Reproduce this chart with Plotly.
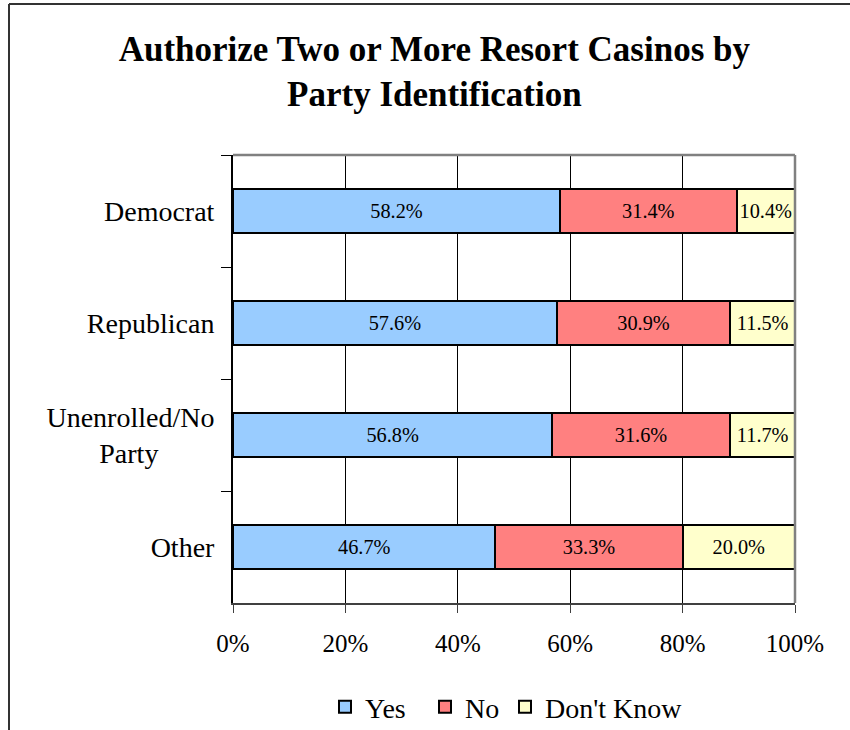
import plotly.graph_objects as go

categories = ["Democrat", "Republican", "Unenrolled/No<br>Party&nbsp;&nbsp;&nbsp;&nbsp;&nbsp;&nbsp;&nbsp;&nbsp;", "Other"]
yes = [58.2, 57.6, 56.8, 46.7]
no = [31.4, 30.9, 31.6, 33.3]
dont_know = [10.4, 11.5, 11.7, 20.0]
series_names = ["Yes", "No", "Don't Know"]
colors = ["#99CCFF", "#FF8080", "#FFFFCC"]
x_ticks = [0, 20, 40, 60, 80, 100]

FONT = "Liberation Serif"
W, H = 850, 730
L, R, T, B = 233, 55, 155, 127
pw, ph = W - L - R, H - T - B

def px(x):
    return (x - L) / pw

def py(y):
    return (H - B - y) / ph

legend_ids = ["legend", "legend2", "legend3"]
legend_left = [325, 425, 505]  # pixel positions of each legend box

fig = go.Figure()
for name, vals, col, lg in zip(series_names, [yes, no, dont_know], colors, legend_ids):
    fig.add_trace(go.Bar(
        y=categories, x=vals, name=name, orientation="h", legend=lg,
        marker=dict(color=col, line=dict(color="black", width=2)),
        text=[f"{v:.1f}%" for v in vals], textposition="inside",
        insidetextanchor="middle", textangle=0,
        textfont=dict(family=FONT, size=21, color="black"),
        hoverinfo="skip",
    ))

legend_style = dict(orientation="h", xanchor="left", y=py(707), yanchor="middle",
                    font=dict(family=FONT, size=28), itemwidth=30,
                    bgcolor="rgba(0,0,0,0)")

fig.update_layout(
    width=W, height=H,
    margin=dict(l=L, r=R, t=T, b=B, autoexpand=False),
    barmode="stack", bargap=0.6,
    uniformtext=dict(minsize=18, mode="show"),
    plot_bgcolor="white", paper_bgcolor="white",
    font=dict(family=FONT, size=25, color="black"),
    title=dict(text="<b>Authorize Two or More Resort Casinos by<br>Party Identification</b>",
               x=0.511, xanchor="center", y=0.917, yanchor="middle",
               font=dict(family=FONT, size=35, color="black")),
    legend=dict(x=px(legend_left[0]), **legend_style),
    legend2=dict(x=px(legend_left[1]), **legend_style),
    legend3=dict(x=px(legend_left[2]), **legend_style),
    showlegend=True,
)
fig.update_xaxes(range=[0, 100], tickvals=x_ticks, ticktext=[f"{v}%" for v in x_ticks],
                 tickfont=dict(family=FONT, size=25),
                 showgrid=True, gridcolor="black", gridwidth=1,
                 showline=True, linecolor="#404040", linewidth=2,
                 ticks="outside", ticklen=8, tickcolor="#404040", tickwidth=1,
                 ticklabelstandoff=9, zeroline=False, fixedrange=True)
fig.update_yaxes(categoryorder="array", categoryarray=categories, autorange="reversed",
                 tickfont=dict(family=FONT, size=28),
                 showline=True, linecolor="black", linewidth=2,
                 ticks="outside", tickson="boundaries", ticklen=10, tickcolor="black",
                 ticklabelstandoff=11, showgrid=False, fixedrange=True)

# plot-area frame (gray top/right)
fig.add_shape(type="line", xref="paper", yref="paper", x0=0, x1=1, y0=1, y1=1,
              line=dict(color="#808080", width=2.5))
fig.add_shape(type="line", xref="paper", yref="paper", x0=1, x1=1, y0=0, y1=1,
              line=dict(color="#808080", width=2.5))
# outer chart border (top and left visible)
fig.add_shape(type="line", xref="paper", yref="paper", x0=px(9), x1=px(860), y0=py(4), y1=py(4),
              line=dict(color="#333333", width=2))
fig.add_shape(type="line", xref="paper", yref="paper", x0=px(9), x1=px(9), y0=py(4), y1=py(740),
              line=dict(color="#333333", width=2))

fig.write_html("out.html", config={"displayModeBar": False},
               post_script="document.body.style.margin='0';")
